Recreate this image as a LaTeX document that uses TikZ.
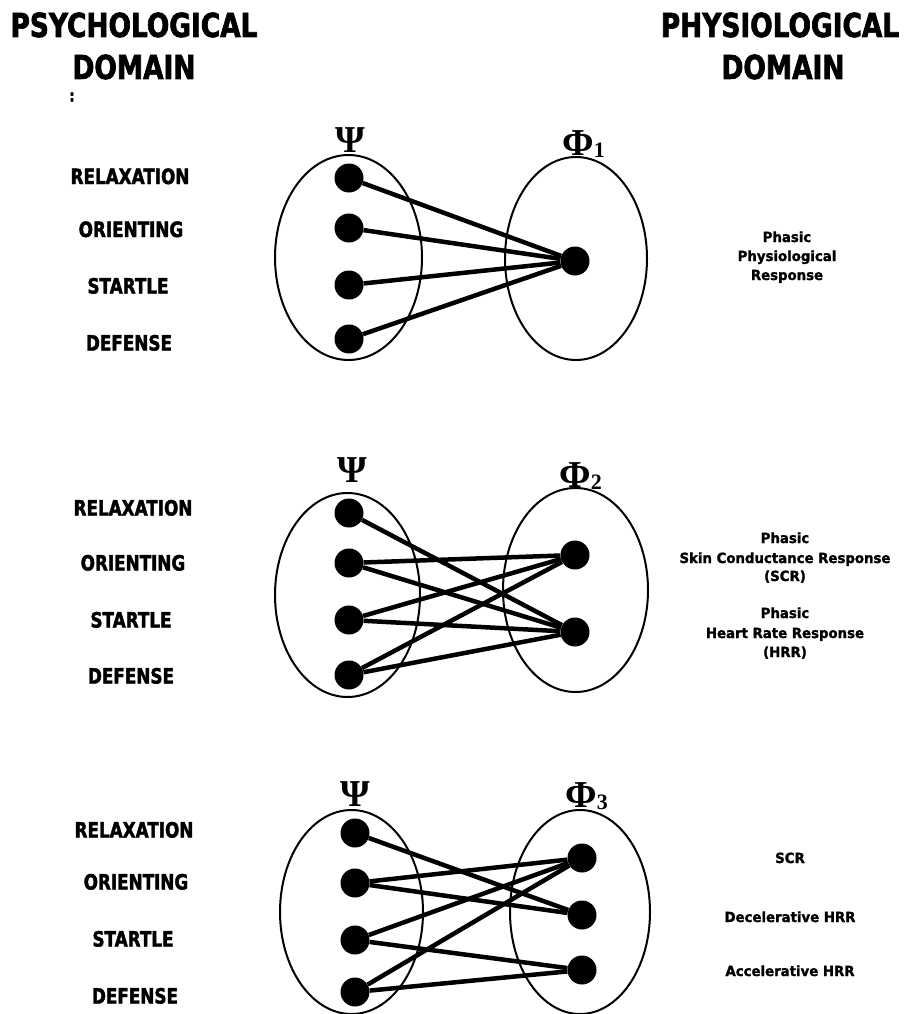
\documentclass[tikz,border=0pt]{standalone}
\usepackage{fontspec}
\usetikzlibrary{shapes.geometric}
\newfontfamily\hdrfont[FakeStretch=0.8,FakeBold=2]{DejaVu Sans Bold}
\newfontfamily\smfont[FakeStretch=0.95,FakeBold=1.5]{DejaVu Sans Bold}
\newfontfamily\grkfont{Liberation Serif Bold}
\begin{document}
\begin{tikzpicture}[x=1pt,y=-1pt,
  hdr/.style={font=\hdrfont\fontsize{33}{33}\selectfont, anchor=base, inner sep=0pt},
  cat/.style={font=\hdrfont\fontsize{21}{21}\selectfont, anchor=base, inner sep=0pt},
  resp/.style={font=\smfont\fontsize{14}{14}\selectfont, anchor=base, inner sep=0pt},
  greek/.style={font=\grkfont\fontsize{38}{38}\selectfont, anchor=base, inner sep=0pt},
  set/.style={draw, ellipse, line width=2pt, inner sep=0pt},
  dot/.style={circle, fill=black, minimum size=29pt, inner sep=0pt},
  link/.style={line width=4.5pt}]
\fill[white] (0,0) rectangle (905,1014);
\useasboundingbox (0,0) rectangle (905,1014);

% headers
\node[hdr] (h1) at (134,37) {PSYCHOLOGICAL};
\node[hdr] (h2) at (134,79) {DOMAIN};
\node[hdr] (h3) at (780,37) {PHYSIOLOGICAL};
\node[hdr] (h4) at (783,79) {DOMAIN};
\node[font=\hdrfont\fontsize{16}{16}\selectfont, inner sep=0pt] (colon) at (72,97) {:};

% ---------- panel 1 ----------
\node[set, minimum width=147pt, minimum height=205pt] (L1) at (348.5,257.5) {};
\node[set, minimum width=142pt, minimum height=203pt] (R1) at (576,258.5) {};
\node[greek] (psi1) at (350,152) {Ψ};
\node[greek] (phi1) at (578,155) {Φ\rlap{\fontsize{22}{22}\selectfont\raisebox{-2pt}{1}}};
\node[dot] (a1) at (349,178) {};
\node[dot] (a2) at (349,228) {};
\node[dot] (a3) at (349,285) {};
\node[dot] (a4) at (349,339) {};
\node[dot] (b1) at (575,261) {};
\foreach \i in {1,2,3,4} \draw[link] (a\i) -- (b1);
\node[cat] (p1r) at (130,184) {RELAXATION};
\node[cat] (p1o) at (131,237) {ORIENTING};
\node[cat] (p1s) at (128,293.5) {STARTLE};
\node[cat] (p1d) at (129,350.5) {DEFENSE};
\node[resp] (t1a) at (787,242) {Phasic};
\node[resp] (t1b) at (787,261) {Physiological};
\node[resp] (t1c) at (787,280) {Response};

% ---------- panel 2 ----------
\node[set, minimum width=145pt, minimum height=204pt] (L2) at (347.5,595) {};
\node[set, minimum width=145pt, minimum height=204pt] (R2) at (575.5,590) {};
\node[greek] (psi2) at (352,482) {Ψ};
\node[greek] (phi2) at (575,487) {Φ\rlap{\fontsize{22}{22}\selectfont\raisebox{-2pt}{2}}};
\node[dot] (c1) at (349,513) {};
\node[dot] (c2) at (349,563) {};
\node[dot] (c3) at (349,620) {};
\node[dot] (c4) at (349,675) {};
\node[dot] (d1) at (575,555) {};
\node[dot] (d2) at (575,632) {};
\draw[link] (c1) -- (d2);
\draw[link] (c2) -- (d1);
\draw[link] (c2) -- (d2);
\draw[link] (c3) -- (d1);
\draw[link] (c3) -- (d2);
\draw[link] (c4) -- (d1);
\draw[link] (c4) -- (d2);
\node[cat] (p2r) at (133,515.5) {RELAXATION};
\node[cat] (p2o) at (133,570.5) {ORIENTING};
\node[cat] (p2s) at (131,627.5) {STARTLE};
\node[cat] (p2d) at (131,683.5) {DEFENSE};
\node[resp] (t2a) at (785,543) {Phasic};
\node[resp] (t2b) at (785,563) {Skin Conductance Response};
\node[resp] (t2c) at (785,581) {(SCR)};
\node[resp] (t2d) at (785,618) {Phasic};
\node[resp] (t2e) at (785,638) {Heart Rate Response};
\node[resp] (t2f) at (785,657) {(HRR)};

% ---------- panel 3 ----------
\node[set, minimum width=143pt, minimum height=204pt] (L3) at (351.5,912) {};
\node[set, minimum width=140pt, minimum height=204pt] (R3) at (580,912) {};
\node[greek] (psi3) at (355,806) {Ψ};
\node[greek] (phi3) at (581,807) {Φ\rlap{\fontsize{22}{22}\selectfont\raisebox{-2pt}{3}}};
\node[dot] (e1) at (355,833) {};
\node[dot] (e2) at (355,883) {};
\node[dot] (e3) at (355,940) {};
\node[dot] (e4) at (355,992) {};
\node[dot] (f1) at (582,858) {};
\node[dot] (f2) at (582,915) {};
\node[dot] (f3) at (582,970) {};
\draw[link] (e1) -- (f2);
\draw[link] (e2) -- (f1);
\draw[link] (e2) -- (f2);
\draw[link] (e3) -- (f1);
\draw[link] (e3) -- (f3);
\draw[link] (e4) -- (f1);
\draw[link] (e4) -- (f3);
\node[cat] (p3r) at (134,837.5) {RELAXATION};
\node[cat] (p3o) at (136,889.5) {ORIENTING};
\node[cat] (p3s) at (133,946.5) {STARTLE};
\node[cat] (p3d) at (135,1003.5) {DEFENSE};
\node[resp] (t3a) at (790,863) {SCR};
\node[resp] (t3b) at (790,922) {Decelerative HRR};
\node[resp] (t3c) at (790,976) {Accelerative HRR};
\end{tikzpicture}
\end{document}
